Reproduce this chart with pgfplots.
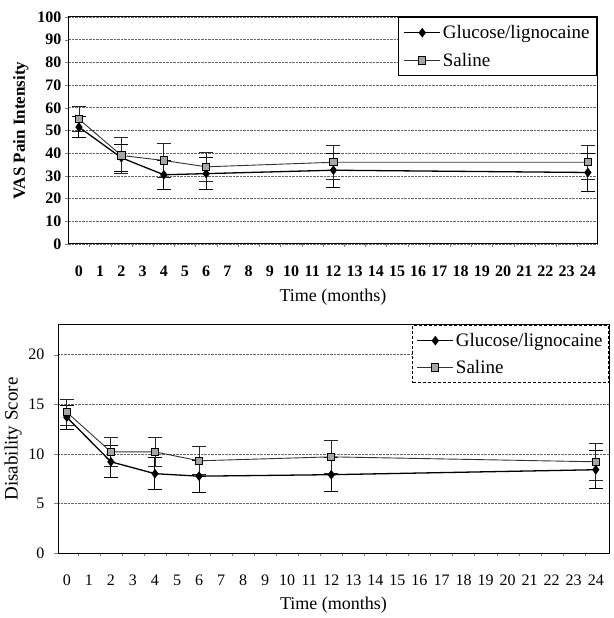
\documentclass[border=0pt]{standalone}
\usepackage{pgfplots}
\pgfplotsset{compat=1.18}
\usepackage{pgfplotstable}
\usepackage{fontspec}
\setmainfont{Liberation Serif}

% VAS pain intensity: month, mean, error
\pgfplotstableread{
x y e
0 51.5 4.5
2 38 6
4 30.5 6.5
6 31 7
12 32.5 7.5
24 31.5 8.5
}\vasglu
\pgfplotstableread{
x y e
0 55 5.5
2 39 8
4 36.8 7.5
6 34 6.5
12 36 7.5
24 36 7.5
}\vassal
% disability score
\pgfplotstableread{
x y e
0 13.7 1.2
2 9.2 1.6
4 8.0 1.6
6 7.75 1.6
12 7.9 1.7
24 8.4 1.9
}\disglu
\pgfplotstableread{
x y e
0 14.2 1.3
2 10.2 1.5
4 10.2 1.5
6 9.3 1.4
12 9.7 1.7
24 9.2 1.9
}\dissal

\pgfplotsset{
  common/.style={
    scale only axis,
    anchor=south west,
    /pgf/number format/assume math mode=true,
    xtick={0,...,24},
    minor xtick={0.5,1.5,...,23.5},
    major x tick style={draw=none},
    minor tick length=3pt,
    major tick length=4pt,
    tick align=outside,
    ytick pos=left, xtick pos=bottom,
    ymajorgrids,
    grid style={densely dotted, black!60, line width=0.7pt},
    axis line style={line width=1pt},
    xlabel={Time (months)},
    legend cell align=left,
    error bars/y dir=both, error bars/y explicit,
  },
  glu/.style={black, line width=1.3pt, mark=diamond*, mark size=3.8pt,
    mark options={solid, fill=black},
    error bars/error bar style={line width=1pt, black},
    error bars/error mark options={rotate=90, mark size=7pt, line width=1pt}},
  sal/.style={black!80, line width=0.9pt, mark=square*, mark size=3.6pt,
    mark options={solid, fill=black!35, draw=black},
    error bars/error bar style={line width=0.9pt, black!85},
    error bars/error mark options={rotate=90, mark size=7pt, line width=0.9pt}},
}

\begin{document}
\begin{tikzpicture}
\useasboundingbox (0,0) rectangle (613pt,618pt);

% top: VAS pain intensity
\begin{axis}[common,
  at={(69pt,374pt)}, width=528pt, height=227pt,
  xmin=-0.47, xmax=24.43,
  ymin=0, ymax=100, ytick={0,10,...,100},
  ylabel={\bfseries VAS Pain Intensity},
  tick label style={font=\fontsize{16}{16}\selectfont\bfseries},
  xticklabel style={yshift=-14pt},
  xlabel style={font=\fontsize{18}{18}\selectfont, yshift=-6pt},
  ylabel style={font=\fontsize{17}{17}\selectfont, yshift=2pt},
  legend style={at={(1,1)}, anchor=north east, draw=black, line width=0.8pt,
    font=\fontsize{19}{22}\selectfont, inner xsep=5pt, inner ysep=6pt,
    row sep=9pt},
  legend image code/.code={
    \draw[mark repeat=2, mark phase=2, #1] plot coordinates {(0pt,0pt) (18pt,0pt) (36pt,0pt)};},
]
\addplot[glu] table[x=x, y=y, y error=e]{\vasglu};
\addlegendentry{Glucose/lignocaine}
\addplot[sal] table[x=x, y=y, y error=e]{\vassal};
\addlegendentry{Saline}
\end{axis}

% bottom: disability score
\begin{axis}[common,
  at={(58pt,65pt)}, width=551pt, height=228pt,
  xmin=-0.4, xmax=24.6,
  ymin=0, ymax=23, ytick={0,5,...,20},
  ylabel={Disability Score},
  tick label style={font=\fontsize{16}{16}\selectfont},
  xticklabel style={yshift=-14pt},
  yticklabel style={xshift=-6pt},
  xlabel style={font=\fontsize{18}{18}\selectfont, yshift=-5pt},
  ylabel style={font=\fontsize{19}{19}\selectfont},
  legend style={at={(1,1)}, anchor=north east, draw=black, densely dashed,
    line width=0.7pt,
    font=\fontsize{19}{22}\selectfont, inner xsep=4pt, inner ysep=6pt,
    row sep=8pt},
  legend image code/.code={
    \draw[solid, mark repeat=2, mark phase=2, #1] plot coordinates {(0pt,0pt) (18pt,0pt) (36pt,0pt)};},
]
\addplot[glu] table[x=x, y=y, y error=e]{\disglu};
\addlegendentry{Glucose/lignocaine}
\addplot[sal] table[x=x, y=y, y error=e]{\dissal};
\addlegendentry{Saline}
\end{axis}
\end{tikzpicture}
\end{document}
